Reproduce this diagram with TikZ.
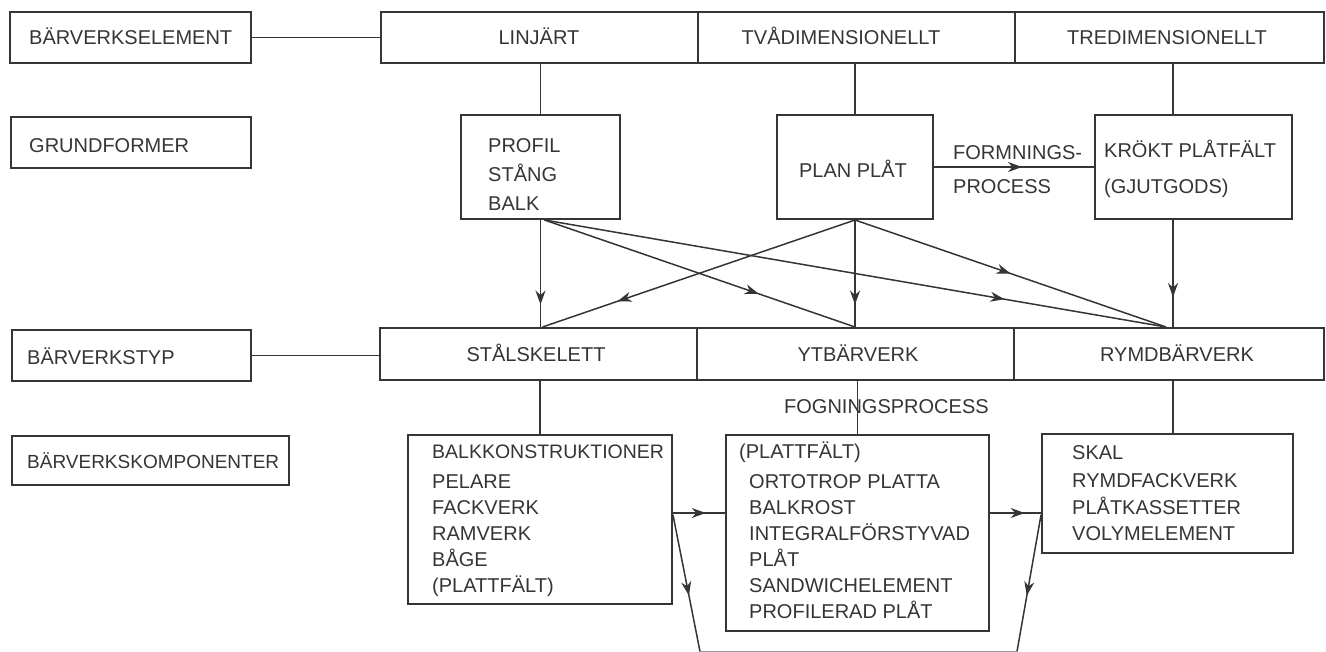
\documentclass[tikz,border=0pt]{standalone}
\usepackage{fontspec}
\setmainfont{Liberation Sans}
\usetikzlibrary{arrows.meta,decorations.markings}
\definecolor{ink}{HTML}{353535}
\tikzset{
  box/.style={draw=ink, line width=2pt, inner sep=0pt, rectangle},
  conn/.style={draw=ink, line width=1.5pt},
  lbl/.style={text=ink, inner sep=0pt, anchor=base west, font=\fontsize{20}{24}\selectfont},
  clbl/.style={lbl, anchor=base},
  marr/.style={postaction={decorate,decoration={markings,mark=at position #1 with {\arrow[ink]{Stealth[length=14pt,width=10pt,inset=4.5pt]}}}}}
}
\begin{document}
\begin{tikzpicture}[x=1pt,y=-1pt]
\useasboundingbox (0,0) rectangle (1326,651);
\fill[white] (0,0) rectangle (1326,651);

% left labels
\node[box, minimum width=241pt, minimum height=51pt] (lab1) at (130.5,37.5) {};
\node[box, minimum width=240pt, minimum height=51pt] (lab2) at (131,142.5) {};
\node[box, minimum width=239pt, minimum height=51pt] (lab3) at (131.5,355.5) {};
\node[box, minimum width=277pt, minimum height=49pt] (lab4) at (150.5,460.5) {};
\node[lbl] (t1) at (29,44.5) {BÄRVERKSELEMENT};
\node[lbl] (t2) at (29,152) {GRUNDFORMER};
\node[lbl] (t3) at (27,364) {BÄRVERKSTYP};
\node[lbl, font=\fontsize{19}{23}\selectfont] (t4) at (27,468) {BÄRVERKSKOMPONENTER};

% top row
\node[box, minimum width=317pt, minimum height=51pt] (lin) at (539.5,37.5) {};
\node[box, minimum width=317pt, minimum height=51pt] (two) at (856.5,37.5) {};
\node[box, minimum width=309pt, minimum height=51pt] (three) at (1169.5,37.5) {};
\node[clbl] (tlin) at (539,44.5) {LINJÄRT};
\node[clbl] (ttwo) at (841,44.5) {TVÅDIMENSIONELLT};
\node[clbl] (tthree) at (1167,44.5) {TREDIMENSIONELLT};

% second row
\node[box, minimum width=159pt, minimum height=104pt] (profil) at (540.5,167) {};
\node[box, minimum width=156pt, minimum height=104pt] (plan) at (855,167) {};
\node[box, minimum width=197pt, minimum height=104pt] (krokt) at (1193.5,167) {};
\node[lbl] (pr1) at (488,152) {PROFIL};
\node[lbl] (pr2) at (488,181) {STÅNG};
\node[lbl] (pr3) at (488,210) {BALK};
\node[clbl] (pl1) at (853,177) {PLAN PLÅT};
\node[lbl] (fo1) at (953,159) {FORMNINGS-};
\node[lbl] (fo2) at (953,193) {PROCESS};
\node[lbl] (kr1) at (1104,157) {KRÖKT PLÅTFÄLT};
\node[lbl] (kr2) at (1104,193) {(GJUTGODS)};

% third row
\node[box, minimum width=317pt, minimum height=52pt] (st) at (538.5,354) {};
\node[box, minimum width=317pt, minimum height=52pt] (yt) at (855.5,354) {};
\node[box, minimum width=310pt, minimum height=52pt] (rymd) at (1169,354) {};
\node[clbl] (tst) at (536,361.5) {STÅLSKELETT};
\node[clbl] (tyt) at (858,361.5) {YTBÄRVERK};
\node[clbl] (trymd) at (1177,361.5) {RYMDBÄRVERK};

% fourth row
\node[box, minimum width=264pt, minimum height=169pt] (stc) at (540,519.5) {};
\node[box, minimum width=263pt, minimum height=196pt] (ytc) at (857.5,533) {};
\node[box, minimum width=251pt, minimum height=119pt] (rymdc) at (1167.5,493.5) {};

\node[lbl, font=\fontsize{19.5}{23}\selectfont] (sa1) at (432,458) {BALKKONSTRUKTIONER};
\foreach \t/\y [count=\i from 2] in {PELARE/488, FACKVERK/514, RAMVERK/540, BÅGE/566, (PLATTFÄLT)/592}
  \node[lbl] (sa\i) at (432,\y) {\t};
\node[lbl] (ya0) at (739,458) {(PLATTFÄLT)};
\foreach \t/\y [count=\i] in {ORTOTROP PLATTA/488, BALKROST/514, INTEGRALFÖRSTYVAD/540, PLÅT/566, SANDWICHELEMENT/592, PROFILERAD PLÅT/618}
  \node[lbl] (ya\i) at (749,\y) {\t};
\foreach \t/\y [count=\i] in {SKAL/459, RYMDFACKVERK/487, PLÅTKASSETTER/514, VOLYMELEMENT/540}
  \node[lbl] (ra\i) at (1072,\y) {\t};

% helper coordinates
\coordinate (kx) at (1173,0);
\coordinate (pS) at ([xshift=4pt]profil.south);
\coordinate (stT) at ([xshift=4pt]st.north);
\coordinate (ytT) at (plan.south |- yt.north);
\coordinate (ryT) at ([xshift=-3pt]rymd.north);
\coordinate (ay) at (0,513);
\coordinate (by) at (0,515);
\coordinate (bl) at (700,651.5);
\coordinate (br) at (1017,651.5);

% connectors
\draw[conn] (lab1.east) -- (lin.west);
\draw[conn] (lab3.east) -- (lab3.east -| st.west);

\draw[conn] (profil.north |- lin.south) -- (profil.north);
\draw[conn] (plan.north |- two.south) -- (plan.north);
\draw[conn] (kx |- three.south) -- (kx |- krokt.north);

\draw[conn, marr=0.55] (plan.east) -- (krokt.west);

\draw[conn, marr=0.79] (profil.south) -- (profil.south |- st.north);
\draw[conn, marr=0.69] (pS) -- (ytT);
\draw[conn, marr=0.74] (pS) -- (ryT);
\draw[conn, marr=0.76] (plan.south) -- (stT);
\draw[conn, marr=0.79] (plan.south) -- (ytT);
\draw[conn, marr=0.50] (plan.south) -- (ryT);
\draw[conn, marr=0.72] (kx |- krokt.south) -- (kx |- rymd.north);

\draw[conn] (stc.north |- st.south) -- (stc.north);
\draw[conn] (ytc.north |- yt.south) -- (ytc.north);
\draw[conn] (kx |- rymd.south) -- (kx |- rymdc.north);
\node[lbl] (fog) at (784,413) {FOGNINGSPROCESS};

\draw[conn, marr=0.63] (stc.east |- ay) -- (ytc.west |- ay);
\draw[conn, marr=0.68] (ytc.east |- ay) -- (rymdc.west |- ay);

\draw[conn, marr=0.59] (stc.east |- by) -- (bl);
\draw[conn, marr=0.59] (rymdc.west |- by) -- (br);
\draw[conn, line width=1pt, draw=ink!50] (bl) -- (br);
\end{tikzpicture}
\end{document}
